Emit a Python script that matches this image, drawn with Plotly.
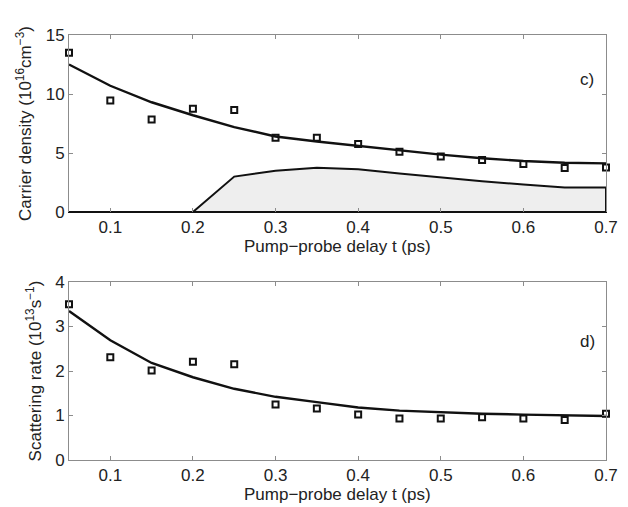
import plotly.graph_objects as go
from plotly.subplots import make_subplots

# pump-probe delay (ps)
delay = [0.05, 0.1, 0.15, 0.2, 0.25, 0.3, 0.35, 0.4, 0.45, 0.5, 0.55, 0.6, 0.65, 0.7]

# panel c) carrier density (1e16 cm^-3)
density_meas = [13.5, 9.45, 7.85, 8.75, 8.65, 6.3, 6.3, 5.77, 5.1, 4.7, 4.4, 4.07, 3.72, 3.78]
density_fit = [12.5, 10.7, 9.3, 8.2, 7.2, 6.4, 5.97, 5.6, 5.2, 4.86, 4.55, 4.32, 4.18, 4.12]
density_second = [0, 0, 0, 0, 3.0, 3.5, 3.75, 3.62, 3.27, 2.93, 2.6, 2.33, 2.07, 2.07]

# panel d) scattering rate (1e13 s^-1)
rate_meas = [3.5, 2.31, 2.01, 2.21, 2.15, 1.25, 1.16, 1.02, 0.93, 0.93, 0.96, 0.93, 0.9, 1.04]
rate_fit = [3.35, 2.69, 2.18, 1.86, 1.6, 1.42, 1.3, 1.18, 1.11, 1.07, 1.04, 1.02, 1.0, 0.99]

x_ticks = [0.1, 0.2, 0.3, 0.4, 0.5, 0.6, 0.7]
x_title = "Pump\u2212probe delay t (ps)"

FONT = dict(family="Liberation Sans, Arial, Helvetica, sans-serif", size=17, color="#222")
AXIS_GREY = "#8c8c8c"

fig = make_subplots(rows=2, cols=1)

# shaded second population, closed down to zero
fig.add_trace(go.Scatter(
    x=delay + [delay[-1], delay[0]],
    y=density_second + [0, 0],
    fill="toself", fillcolor="#eeeeee",
    mode="lines", line=dict(color="#111", width=2),
    hoverinfo="skip",
), row=1, col=1)

fig.add_trace(go.Scatter(
    x=delay, y=density_fit, mode="lines",
    line=dict(color="#111", width=2.4),
), row=1, col=1)
# measured points sit on the top-side twin axis so that the grey top frame is drawn
fig.add_trace(go.Scatter(
    x=delay, y=density_meas, mode="markers", cliponaxis=False,
    xaxis="x3", yaxis="y",
    marker=dict(symbol="square-open", size=6, color="#111", line=dict(width=2)),
))

fig.add_trace(go.Scatter(
    x=delay, y=rate_fit, mode="lines",
    line=dict(color="#111", width=2.4),
), row=2, col=1)
fig.add_trace(go.Scatter(
    x=delay, y=rate_meas, mode="markers", cliponaxis=False,
    marker=dict(symbol="square-open", size=6, color="#111", line=dict(width=2)),
), row=2, col=1)

common_x = dict(
    range=[0.05, 0.7], tickvals=x_ticks, ticktext=[f"{v:.1f}" for v in x_ticks],
    showgrid=False, zeroline=False, showline=True, linecolor=AXIS_GREY, linewidth=1,
    mirror="ticks", ticks="inside", ticklen=4, tickcolor=AXIS_GREY,
    tickfont=FONT, automargin=False,
)
common_y = dict(
    showgrid=False, zeroline=False, showline=True, linecolor=AXIS_GREY, linewidth=1,
    mirror="ticks", ticks="inside", ticklen=4, tickcolor=AXIS_GREY,
    tickfont=FONT, automargin=False,
)

fig.update_xaxes(**common_x)
fig.update_yaxes(**common_y)

fig.update_layout(
    # bottom edge of panel c) is black (outline of the shaded area), top edge stays grey
    xaxis=dict(linecolor="#111", linewidth=1, mirror=False),
    xaxis3=dict(
        overlaying="x", anchor="y", side="top",
        range=[0.05, 0.7], tickvals=x_ticks, showticklabels=False,
        showgrid=False, zeroline=False, showline=True, linecolor=AXIS_GREY, linewidth=1,
        ticks="inside", ticklen=4, tickcolor=AXIS_GREY, automargin=False,
    ),
    yaxis=dict(
        domain=[0.5835, 1], range=[0, 15], tickvals=[0, 5, 10, 15],
        title=dict(text="Carrier density (10<sup>16</sup>cm<sup>\u22123</sup>)", font=FONT, standoff=9),
    ),
    yaxis2=dict(
        domain=[0, 0.4188], range=[0, 4], tickvals=[0, 1, 2, 3, 4],
        title=dict(text="Scattering rate (10<sup>13</sup>s<sup>\u22121</sup>)", font=FONT, standoff=9),
    ),
    annotations=[
        dict(text="c)", x=0.677, y=11.2, xref="x", yref="y", showarrow=False, font=FONT),
        dict(text="d)", x=0.677, y=2.67, xref="x2", yref="y2", showarrow=False, font=FONT),
        dict(text=x_title, x=0.5, y=0, xref="x domain", yref="y domain",
             yanchor="middle", yshift=-34, showarrow=False, font=FONT),
        dict(text=x_title, x=0.5, y=0, xref="x2 domain", yref="y2 domain",
             yanchor="middle", yshift=-34, showarrow=False, font=FONT),
    ],
    # the page body has an 8px margin, so the figure is 8px smaller than the window
    width=620, height=499,
    margin=dict(l=61, r=22, t=27, b=47),
    plot_bgcolor="white", paper_bgcolor="white",
    showlegend=False,
    font=FONT,
)

fig.write_html("out.html")
